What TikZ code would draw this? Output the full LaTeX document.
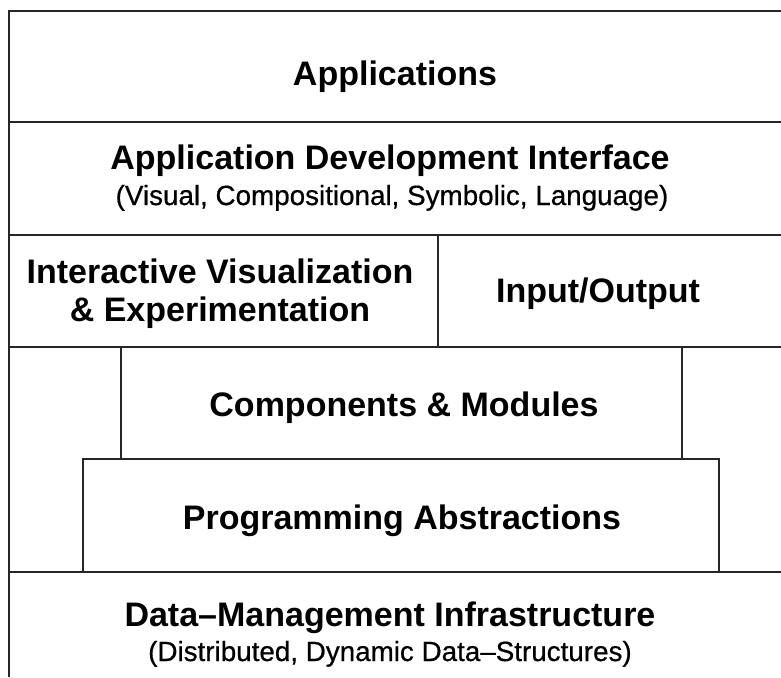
\documentclass[tikz,border=0pt]{standalone}
\usepackage{fontspec}
\setmainfont{Liberation Sans}
\newfontfamily\subfont[FakeBold=0.6]{Liberation Sans}
\begin{document}
\begin{tikzpicture}[x=1pt,y=-1pt,
  rule/.style={line width=1.8pt, draw=black!85},
  title/.style={anchor=base, inner sep=0pt, font=\fontsize{34}{38}\selectfont\bfseries},
  subtitle/.style={anchor=base, inner sep=0pt, font=\subfont\fontsize{27.8}{32}\selectfont}]
\useasboundingbox (0,0) rectangle (781,677);
% frame and layer rules
\draw[rule] (781,11) -- (9,11) -- (9,677);
\draw[rule] (9,122) -- (781,122);
\draw[rule] (9,235) -- (781,235);
\draw[rule] (438,235) -- (438,347);
\draw[rule] (9,347) -- (781,347);
\draw[rule] (121,347) -- (121,459);
\draw[rule] (682,347) -- (682,459);
\draw[rule] (83,572) -- (83,459) -- (719,459) -- (719,572);
\draw[rule] (9,572) -- (781,572);
% texts
\node[title] (apps) at (395,85) {Applications};
\node[title] (adi) at (390,169) {Application Development Interface};
\node[subtitle] (adisub) at (392,205) {(Visual, Compositional, Symbolic, Language)};
\node[title] (ivis1) at (220,283) {Interactive Visualization};
\node[title] (ivis2) at (220,321) {\& Experimentation};
\node[title] (io) at (598,302) {Input/Output};
\node[title] (comp) at (404,416) {Components \& Modules};
\node[title] (prog) at (402,529) {Programming Abstractions};
\node[title] (data) at (390,626) {Data–Management Infrastructure};
\node[subtitle] (datasub) at (390,661) {(Distributed, Dynamic Data–Structures)};
\end{tikzpicture}
\end{document}
